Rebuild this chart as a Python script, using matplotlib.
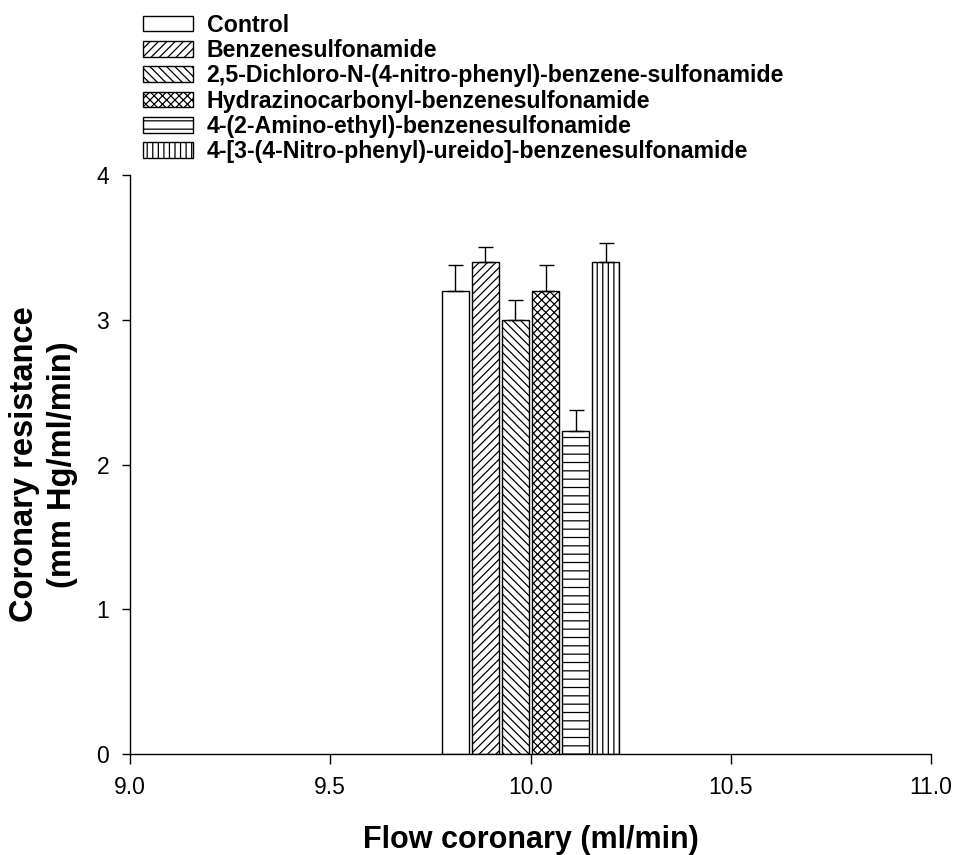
import numpy as np
import matplotlib
matplotlib.use('Agg')
import matplotlib.pyplot as plt

# data
labels = ['Control',
          'Benzenesulfonamide',
          '2,5-Dichloro-N-(4-nitro-phenyl)-benzene-sulfonamide',
          'Hydrazinocarbonyl-benzenesulfonamide',
          '4-(2-Amino-ethyl)-benzenesulfonamide',
          '4-[3-(4-Nitro-phenyl)-ureido]-benzenesulfonamide']
resistance = [3.2, 3.4, 3.0, 3.2, 2.23, 3.4]
resistance_err = [0.18, 0.10, 0.14, 0.18, 0.15, 0.13]
flow = 10.0
hatches = ['', '////', '\\\\\\\\', 'xxxx', '--', '|||']

plt.rcParams['font.family'] = ['Liberation Sans', 'DejaVu Sans']
plt.rcParams['hatch.linewidth'] = 0.9

fig = plt.figure(figsize=(9.55, 8.55), dpi=100)
ax = fig.add_axes([0.1361, 0.1181, 0.8388, 0.6772])

width = 0.0687
step = 0.075
n = len(labels)
offsets = (np.arange(n) - (n - 1) / 2) * step
handles = []
for i in range(n):
    b = ax.bar(flow + offsets[i], resistance[i], width=width,
               color='white', edgecolor='black', linewidth=1.0,
               hatch=hatches[i], label=labels[i], zorder=2)
    handles.append(b)
    ax.errorbar(flow + offsets[i], resistance[i],
                yerr=[[0], [resistance_err[i]]], fmt='none',
                ecolor='black', elinewidth=1.0, capsize=5.4,
                capthick=1.0, zorder=3)

ax.set_xlim(9.0, 11.0)
ax.set_ylim(0, 4)
ax.set_xticks([9.0, 9.5, 10.0, 10.5, 11.0])
ax.set_xticklabels(['9.0', '9.5', '10.0', '10.5', '11.0'])
ax.set_yticks([0, 1, 2, 3, 4])
ax.spines['top'].set_visible(False)
ax.spines['right'].set_visible(False)
for s in ('left', 'bottom'):
    ax.spines[s].set_linewidth(1.0)
ax.tick_params(axis='x', direction='out', length=7.5, width=1.0,
               labelsize=16.5, pad=8)
ax.tick_params(axis='y', direction='out', length=6, width=1.0,
               labelsize=16.5, pad=9)

ax.set_xlabel('Flow coronary (ml/min)', fontsize=22, fontweight='bold',
              labelpad=19)
ax.set_ylabel('Coronary resistance\n(mm Hg/ml/min)', fontsize=23.5,
              fontweight='bold', labelpad=13, linespacing=1.3)

fig.legend(handles=handles, labels=labels, loc='upper left',
           bbox_to_anchor=(0.1497, 0.984), frameon=False,
           prop={'size': 16.7, 'weight': 'bold'},
           handlelength=2.15, handleheight=0.65, handletextpad=0.6,
           labelspacing=0.1, borderpad=0, borderaxespad=0)

fig.savefig('out.png', dpi=100)
